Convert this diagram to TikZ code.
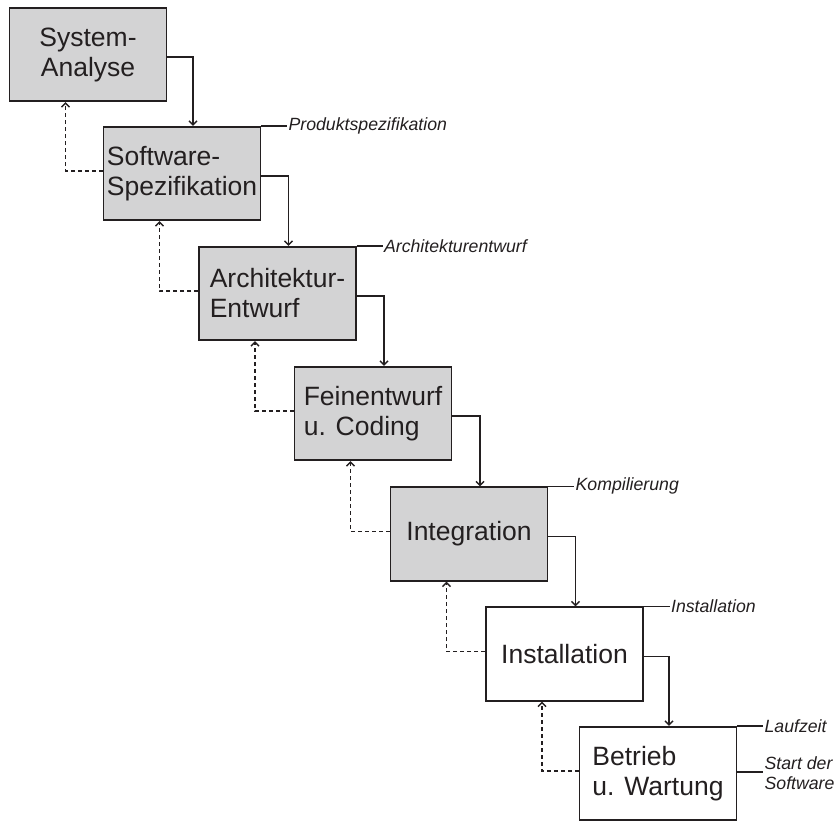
\documentclass[tikz,border=0pt]{standalone}
\usepackage{fontspec}
\setmainfont{Liberation Sans}
\usetikzlibrary{arrows.meta}
\definecolor{phase}{RGB}{211,211,212}
\definecolor{ink}{RGB}{35,31,32}
\begin{document}
\begin{tikzpicture}[x=1pt,y=-1pt,
  phasebox/.style={draw=ink, line width=1.8pt, minimum width=157pt, minimum height=93.5pt,
    inner sep=0pt, text=ink, font=\fontsize{26.5}{30}\selectfont, align=left},
  done/.style={phasebox, fill=phase},
  open/.style={phasebox, fill=white},
  flow/.style={draw=ink, line width=1.4pt, -{Straight Barb[length=4pt,width=8pt]}},
  back/.style={flow, dash pattern=on 4pt off 3pt},
  tag/.style={draw=ink, line width=1.4pt},
  tagtext/.style={anchor=west, inner sep=1pt, text=ink,
    font=\fontsize{17.7}{20}\selectfont\itshape, align=left}]

\useasboundingbox (0,0) rectangle (834,821);

% phases of the waterfall
\node[done, align=center] (b1) at (88,54.5)    {System-\\Analyse};
\node[done]               (b2) at (182,173.5)  {Software-\\Spezifikation};
\node[done]               (b3) at (277.5,293.5){Architektur-\\Entwurf};
\node[done]               (b4) at (373,413.5)  {Feinentwurf\\u. Coding};
\node[done]               (b5) at (469,534)    {Integration};
\node[open]               (b6) at (564.5,654)  {Installation};
\node[open]               (b7) at (658,773.5)  {Betrieb\\u. Wartung};

% forward flow
\foreach \a/\b in {b1/b2,b2/b3,b3/b4,b4/b5,b5/b6,b6/b7}
  \draw[flow] ([yshift=-2.5pt]\a.east) -| ([xshift=11pt]\b.north);

% feedback to the previous phase
\foreach \a/\b in {b1/b2,b2/b3,b3/b4,b4/b5,b5/b6,b6/b7}
  \draw[back] ([yshift=2.5pt]\b.west) -| ([xshift=-22.5pt]\a.south);

% results of the phases
\node[tagtext] (t2) at ([xshift=26pt]b2.north east) {Produktspezifikation};
\node[tagtext] (t3) at ([xshift=26pt]b3.north east) {Architekturentwurf};
\node[tagtext] (t5) at ([xshift=26pt]b5.north east) {Kompilierung};
\node[tagtext] (t6) at ([xshift=26pt]b6.north east) {Installation};
\node[tagtext] (t7) at ([xshift=26pt]b7.north east) {Laufzeit};
\node[tagtext] (t8) at ([xshift=26pt]b7.east) {Start der\\Software};
\draw[tag] (b2.north east) -- (t2.west);
\draw[tag] (b3.north east) -- (t3.west);
\draw[tag] (b5.north east) -- (t5.west);
\draw[tag] (b6.north east) -- (t6.west);
\draw[tag] (b7.north east) -- (t7.west);
\draw[tag] ([yshift=1.5pt]b7.east) -- ([yshift=1.5pt]t8.west);
\end{tikzpicture}
\end{document}
